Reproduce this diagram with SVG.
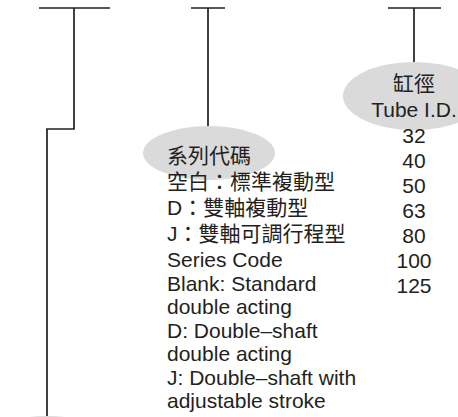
<svg xmlns="http://www.w3.org/2000/svg" width="458" height="417" viewBox="0 0 458 417">
<style>
.ln{fill:none;stroke:#231f20;stroke-width:1.7}
.bub{fill:#dadada}
.t{font-family:"Liberation Sans","Noto Sans CJK TC",sans-serif;font-size:21px;fill:#231f20}
.c{text-anchor:middle}
</style>
<rect width="458" height="417" fill="#ffffff"/>
<g id="connectors">
<path class="ln" d="M39,8 H110 M74,8 V129 H47 V416"/>
<path class="ln" d="M191,8 H225 M208,8 V127"/>
<path class="ln" d="M388,8 H441 M414,8 V62"/>
</g>
<g id="node-model">
<ellipse class="bub" cx="47" cy="443" rx="66" ry="27"/>
</g>
<g id="node-series">
<ellipse class="bub" cx="209" cy="153" rx="66" ry="27"/>
<text class="t" x="167" y="163">系列代碼</text>
<text class="t" x="167" y="189">空白：標準複動型</text>
<text class="t" x="167" y="215">D：雙軸複動型</text>
<text class="t" x="167" y="241">J：雙軸可調行程型</text>
<text class="t" x="167" y="267">Series Code</text>
<text class="t" x="167" y="291">Blank: Standard</text>
<text class="t" x="167" y="314">double acting</text>
<text class="t" x="167" y="338">D: Double–shaft</text>
<text class="t" x="167" y="361">double acting</text>
<text class="t" x="167" y="385">J: Double–shaft with</text>
<text class="t" x="167" y="408">adjustable stroke</text>
</g>
<g id="node-bore">
<ellipse class="bub" cx="414" cy="96" rx="71" ry="34"/>
<text class="t c" x="414" y="91">缸徑</text>
<text class="t c" x="414" y="117">Tube I.D.</text>
<text class="t c" x="414" y="143">32</text>
<text class="t c" x="414" y="168">40</text>
<text class="t c" x="414" y="193">50</text>
<text class="t c" x="414" y="218">63</text>
<text class="t c" x="414" y="243">80</text>
<text class="t c" x="414" y="268">100</text>
<text class="t c" x="414" y="293">125</text>
</g>
</svg>
